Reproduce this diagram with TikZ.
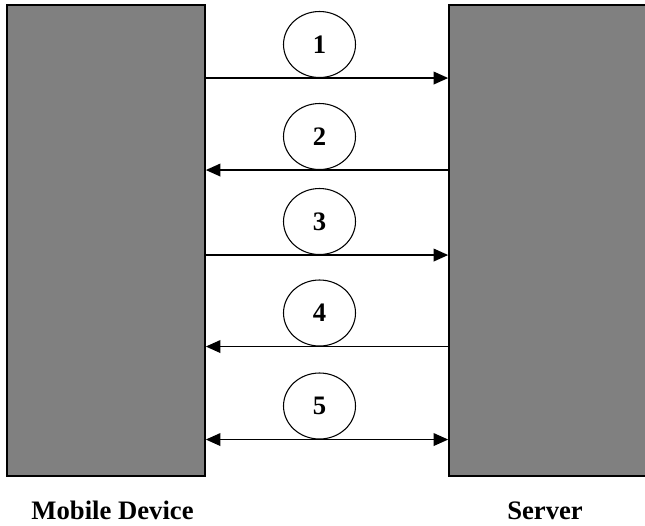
\documentclass[tikz,border=0pt]{standalone}
\usepackage{fontspec}
\setmainfont{Liberation Serif}
\usetikzlibrary{shapes.geometric,arrows.meta}
\begin{document}
\begin{tikzpicture}[x=0.75pt,y=-0.75pt,
  block/.style={draw=black,line width=1.2pt,fill=gray50,inner sep=0pt,minimum height=471*0.75pt},
  num/.style={ellipse,draw=black,line width=0.8pt,fill=white,inner sep=0pt,minimum width=72*0.75pt,minimum height=66*0.75pt,font=\bfseries\fontsize{20}{24}\selectfont},
  msg/.style={line width=1.3pt,-{Triangle[length=11pt,width=9.5pt]}},
  lbl/.style={anchor=base,font=\bfseries\fontsize{20}{24}\selectfont}]
\definecolor{gray50}{HTML}{808080}
\useasboundingbox (0,0) rectangle (645,525);
\node[block,minimum width=198*0.75pt] (md) at (106,240.5) {};
\node[block,minimum width=200*0.75pt] (sv) at (549,240.5) {};
\node[num] (e1) at (319.5,44.5) {1};
\node[num] (e2) at (319.5,136.5) {2};
\node[num] (e3) at (319.5,221.5) {3};
\node[num] (e4) at (319.5,313) {4};
\node[num] (e5) at (319.5,406) {5};
\draw[msg] (md.east |- e1.south) -- (sv.west |- e1.south);
\draw[msg] (sv.west |- e2.south) -- (md.east |- e2.south);
\draw[msg] (md.east |- e3.south) -- (sv.west |- e3.south);
\draw[msg] (sv.west |- e4.south) -- (md.east |- e4.south);
\draw[msg,{Triangle[length=11pt,width=9.5pt]}-{Triangle[length=11pt,width=9.5pt]}] (md.east |- e5.south) -- (sv.west |- e5.south);
\node[lbl] (t1) at (112.5,519) {Mobile Device};
\node[lbl] (t2) at (545,519) {Server};
\end{tikzpicture}
\end{document}
